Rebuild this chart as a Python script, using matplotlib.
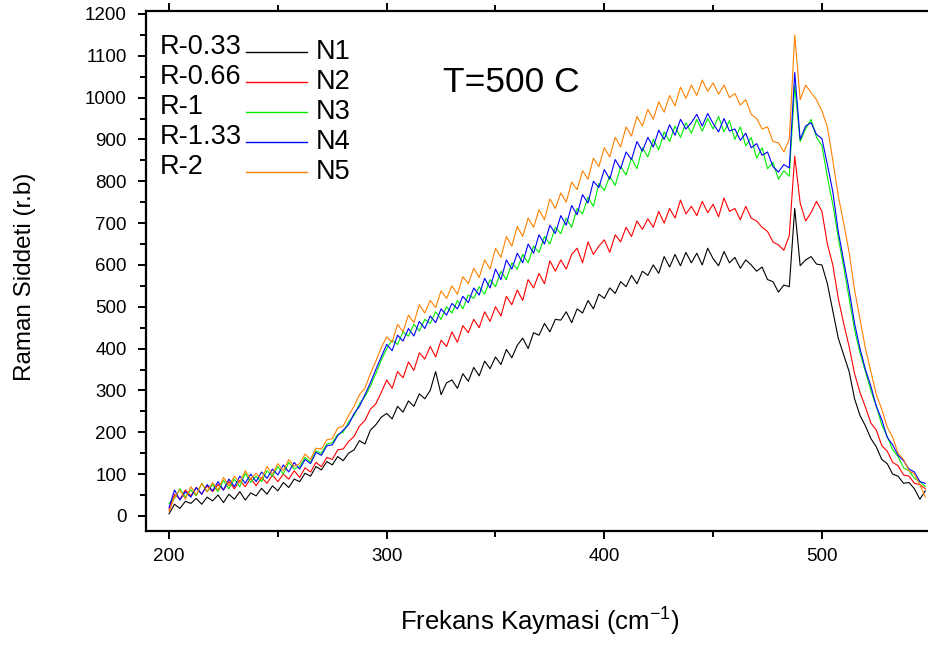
"""Raman spectra at T=500 C, five samples."""

import numpy as np
import matplotlib
matplotlib.use('Agg')
from matplotlib import pyplot as plt

plt.rcParams['font.family'] = ['Liberation Sans', 'DejaVu Sans']
plt.rcParams['mathtext.fontset'] = 'custom'
plt.rcParams['mathtext.rm'] = 'Liberation Sans'
plt.rcParams['mathtext.it'] = 'Liberation Sans'

# frequency grid (cm-1), one reading every 2.5
freq = np.arange(200, 548, 2.5)

n1 = [5, 28, 18, 35, 30, 42, 28, 45, 36, 50, 32, 52, 40, 58, 38, 55,
      48, 66, 52, 72, 60, 80, 68, 88, 82, 102, 95, 118, 110, 130, 122, 142,
      132, 150, 158, 180, 172, 205, 218, 236, 245, 232, 262, 248, 275, 262, 292, 280,
      300, 345, 290, 318, 325, 305, 340, 322, 355, 335, 370, 352, 380, 362, 398, 378,
      408, 425, 400, 438, 432, 460, 440, 470, 468, 488, 462, 495, 485, 515, 495, 530,
      520, 545, 532, 560, 548, 575, 555, 585, 575, 600, 580, 620, 595, 625, 598, 630,
      605, 628, 600, 640, 615, 598, 632, 605, 618, 592, 612, 600, 585, 595, 565, 560,
      535, 552, 548, 735, 598, 612, 620, 602, 600, 555, 490, 425, 385, 345, 280, 240,
      215, 185, 165, 135, 125, 100, 95, 78, 80, 65, 40, 60]

n2 = [15, 52, 40, 62, 48, 68, 52, 72, 58, 75, 62, 82, 65, 85, 70, 90,
      72, 92, 78, 98, 82, 100, 88, 108, 92, 115, 105, 128, 118, 140, 135, 158,
      160, 178, 190, 215, 228, 255, 268, 295, 325, 305, 345, 330, 368, 348, 390, 375,
      405, 380, 420, 405, 440, 415, 455, 438, 470, 450, 488, 465, 500, 478, 525, 505,
      540, 515, 565, 545, 580, 555, 610, 585, 612, 590, 625, 640, 605, 655, 625, 645,
      660, 630, 672, 655, 690, 668, 705, 685, 710, 690, 728, 700, 735, 712, 755, 722,
      740, 718, 752, 725, 745, 715, 760, 728, 735, 708, 740, 712, 705, 690, 680, 655,
      648, 635, 670, 860, 748, 705, 725, 752, 728, 650, 600, 520, 460, 405, 340, 295,
      260, 222, 205, 168, 155, 128, 120, 98, 95, 78, 75, 65]

n3 = [30, 42, 65, 45, 62, 48, 78, 58, 75, 58, 85, 65, 88, 70, 102, 80,
      95, 82, 108, 95, 118, 100, 128, 112, 118, 140, 128, 155, 150, 172, 175, 195,
      200, 225, 240, 268, 285, 310, 340, 372, 400, 420, 410, 440, 430, 458, 442, 470,
      460, 488, 470, 500, 485, 515, 495, 528, 520, 548, 530, 565, 548, 585, 565, 605,
      590, 625, 605, 645, 630, 668, 650, 690, 675, 712, 690, 735, 722, 762, 740, 795,
      778, 812, 790, 835, 815, 855, 830, 880, 858, 900, 875, 918, 895, 932, 905, 940,
      915, 948, 920, 950, 925, 955, 918, 945, 900, 930, 885, 905, 855, 880, 830, 845,
      805, 825, 812, 1030, 895, 925, 948, 905, 885, 810, 745, 665, 595, 520, 445, 390,
      345, 300, 262, 218, 190, 158, 142, 115, 108, 90, 82, 70]

n4 = [20, 62, 38, 58, 45, 68, 52, 75, 60, 82, 62, 88, 70, 95, 78, 100,
      82, 105, 90, 112, 98, 122, 105, 128, 112, 135, 125, 152, 145, 168, 170, 192,
      205, 218, 245, 262, 290, 318, 350, 380, 410, 395, 432, 418, 448, 430, 465, 448,
      478, 462, 495, 480, 508, 495, 525, 510, 545, 528, 568, 545, 590, 565, 612, 590,
      628, 605, 650, 628, 672, 650, 695, 675, 718, 695, 742, 720, 768, 748, 800, 785,
      828, 805, 852, 830, 870, 852, 895, 872, 905, 882, 922, 900, 935, 910, 948, 925,
      940, 960, 932, 962, 938, 918, 950, 920, 925, 898, 915, 880, 890, 862, 870, 835,
      822, 840, 832, 1060, 900, 932, 940, 912, 902, 840, 775, 680, 610, 540, 460, 400,
      350, 310, 262, 230, 188, 170, 145, 132, 112, 105, 82, 78]

n5 = [10, 45, 62, 40, 70, 50, 78, 58, 80, 62, 92, 72, 95, 80, 108, 88,
      102, 88, 118, 100, 125, 108, 135, 118, 125, 148, 135, 162, 160, 182, 185, 210,
      215, 240, 262, 290, 305, 340, 370, 402, 428, 415, 458, 440, 480, 462, 505, 485,
      515, 498, 538, 520, 550, 530, 572, 555, 592, 570, 612, 590, 640, 618, 668, 645,
      692, 668, 712, 690, 732, 708, 758, 735, 772, 750, 798, 780, 825, 805, 855, 835,
      880, 858, 905, 882, 930, 908, 955, 932, 972, 948, 990, 965, 1005, 980, 1025, 998,
      1030, 1005, 1042, 1015, 1035, 1008, 1030, 1000, 1010, 982, 995, 960, 950, 925, 930, 895,
      892, 870, 900, 1150, 995, 1030, 1012, 995, 968, 930, 850, 765, 700, 630, 540, 470,
      400, 345, 290, 255, 212, 188, 150, 135, 108, 100, 75, 45]

samples = ['N1', 'N2', 'N3', 'N4', 'N5']
ratios = ['R-0.33', 'R-0.66', 'R-1', 'R-1.33', 'R-2']
colors = ['#000000', '#ff0000', '#00ee00', '#0000ff', '#ff8000']


def main() -> None:
    fig = plt.figure(figsize=(9.29, 6.45), dpi=100)
    ax = fig.add_axes([146 / 929, 114 / 645, 783 / 929, 520 / 645])

    for ys, col in zip([n1, n2, n3, n4, n5], colors):
        ax.plot(freq, ys, color=col, lw=0.8)

    ax.set_xlim(189.4, 549.2)
    ax.set_ylim(-36, 1207)
    ax.set_xticks(np.arange(200, 501, 100))
    ax.set_xticks(np.arange(250, 550, 100), minor=True)
    ax.set_yticks(np.arange(0, 1201, 100))
    ax.set_yticks(np.arange(50, 1200, 100), minor=True)

    for s in ['left', 'bottom', 'top']:
        ax.spines[s].set_linewidth(1.6)
    ax.spines['right'].set_visible(False)
    ax.tick_params(which='major', direction='out', length=6, width=1.4,
                   labelsize=13.5, pad=6)
    ax.tick_params(which='minor', direction='out', length=4, width=1.4)
    ax.tick_params(axis='y', pad=8)
    ax.tick_params(axis='x', which='both', top=True)
    ax.xaxis.set_tick_params(which='both', labeltop=False)

    # hand-made key: ratio name, line sample, sample name
    for k, (r, s, col) in enumerate(zip(ratios, samples, colors)):
        y_line = 0.922 - 0.0579 * k
        ax.text(0.018, y_line + 0.0096, r, transform=ax.transAxes,
                fontsize=19.5, va='center', ha='left')
        ax.plot([0.1277, 0.2056], [y_line, y_line], color=col, lw=1.0,
                transform=ax.transAxes)
        ax.text(0.217, y_line, s, transform=ax.transAxes,
                fontsize=19.5, va='center', ha='left')

    ax.text(0.379, 0.863, 'T=500 C', transform=ax.transAxes,
            fontsize=25.5, va='center', ha='left')

    fig.text(540 / 929, 1 - 622 / 645, 'Frekans Kaymasi (cm$^{-1}$)',
             fontsize=18.5, ha='center', va='center')
    fig.text(25 / 929, 1 - 277 / 645, 'Raman Siddeti (r.b)',
             fontsize=17.5, ha='center', va='center', rotation=90)

    fig.savefig('out.png', dpi=100)


if __name__ == '__main__':
    main()
